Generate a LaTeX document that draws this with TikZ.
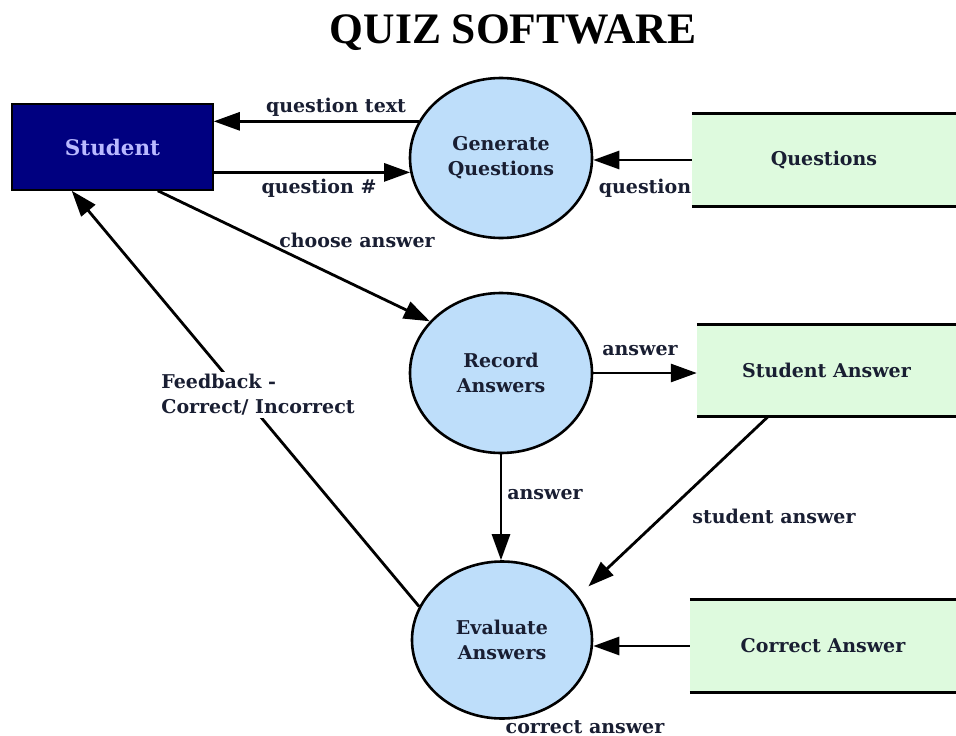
\documentclass[tikz,border=0pt]{standalone}
\usepackage{fontspec}
\setmainfont{DejaVu Serif}
\newfontfamily\titlefont{Liberation Serif}
\usetikzlibrary{shapes.geometric,arrows.meta,calc}
\definecolor{navybox}{RGB}{0,0,128}
\definecolor{procfill}{RGB}{190,222,250}
\definecolor{storefill}{RGB}{222,250,222}
\definecolor{lav}{RGB}{185,185,255}
\definecolor{ink}{RGB}{25,30,50}
\begin{document}
\begin{tikzpicture}[x=1pt,y=-1pt,
  lbl/.style={font=\bfseries\fontsize{19}{25}\selectfont, text=ink, inner sep=1pt},
  procnode/.style={ellipse, draw=black, line width=2.6pt, fill=procfill, minimum width=182pt, minimum height=160pt, align=center, font=\bfseries\fontsize{19}{25}\selectfont, text=ink, inner sep=0pt},
  storenode/.style={rectangle, fill=storefill, inner sep=0pt, font=\bfseries\fontsize{19}{25}\selectfont, text=ink},
  storeline/.style={draw=black, line width=2.8pt},
  flow/.style={draw=black, line width=2.8pt, -{Triangle[length=26pt,width=18pt]}}
]
\useasboundingbox (0,0) rectangle (956,736);
\fill[white] (0,0) rectangle (956,736);

\node[font=\titlefont\bfseries\fontsize{43.5}{46}\selectfont] (title) at (513,33) {QUIZ SOFTWARE};

\node[rectangle, draw=black, line width=1.5pt, fill=navybox, minimum width=201pt, minimum height=86pt, text=lav, font=\bfseries\fontsize{21.5}{25}\selectfont] (stu) at (112.5,147) {Student};

\node[procnode] (gen) at (501,158) {Generate\\Questions};
\node[procnode] (rec) at (501,373) {Record\\Answers};
\node[procnode, minimum height=157pt, minimum width=180pt] (eva) at (502,640) {Evaluate\\Answers};

\node[storenode, minimum width=264pt, minimum height=92pt] (qs) at (824,160) {Questions};
\node[storenode, minimum width=259pt, minimum height=91pt] (sa) at (826.5,370.5) {Student Answer};
\node[storenode, minimum width=266pt, minimum height=92pt] (ca) at (823,646) {Correct Answer};
\foreach \s in {qs,sa,ca}{
  \draw[storeline] (\s.north west) -- (\s.north east);
  \draw[storeline] (\s.south west) -- (\s.south east);
}

% flows
\draw[flow] (gen.156) -- (gen.156 -| stu.east);
\draw[flow] (stu.east |- gen.189) -- (gen.189);
\draw[flow] (qs.west) -- (qs.west -| gen.east);
\draw[flow] (stu.-44) -- (rec.144);
\draw[flow] (rec.east) -- (rec.east -| sa.west);
\draw[flow] (rec.south) -- (rec.south |- eva.north);
\coordinate (saout) at ($(sa.south)+(-58,0)$);
\draw[flow, shorten >=14pt] (saout) -- (eva.30);
\draw[flow] (ca.west) -- (ca.west -| eva.east);
\draw[flow] (eva.158) -- (stu.227);

% labels
\node[lbl] (l1) at (336,107) {question text};
\node[lbl] (l2) at (319,188) {question \#};
\node[lbl] (l3) at (645,188) {question};
\node[lbl] (l4) at (357,240) {choose answer};
\node[lbl] (l5) at (640,351) {answer};
\node[lbl] (l6) at (545,495) {answer};
\node[lbl] (l7) at (774,516) {student answer};
\node[lbl] (l8) at (585,727) {correct answer};
\node[lbl, fill=white, align=left, inner sep=2pt] (l9) at (258,395) {Feedback -\\Correct/ Incorrect};
\end{tikzpicture}
\end{document}
